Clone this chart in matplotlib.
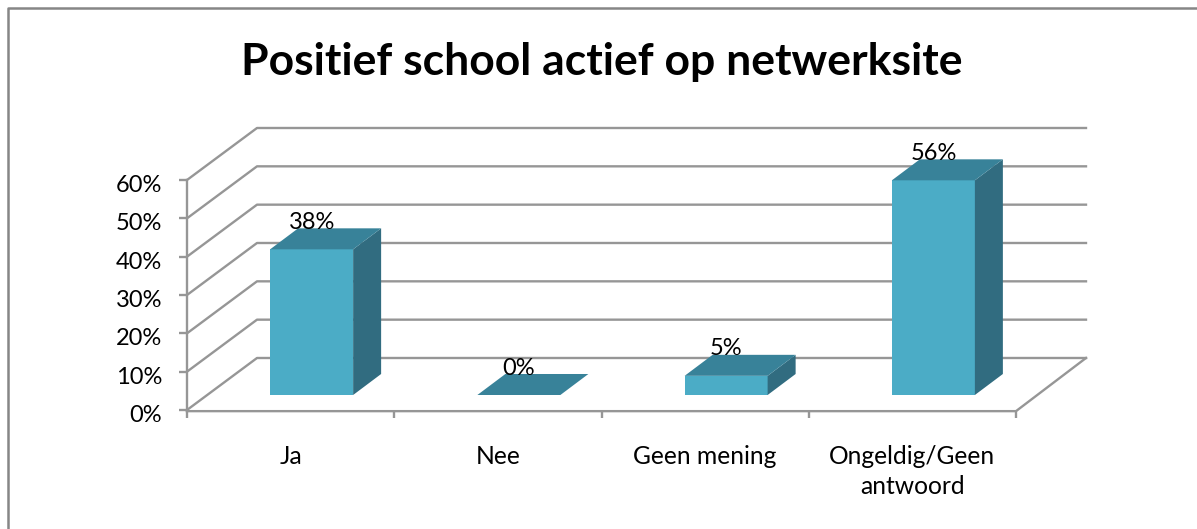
import matplotlib
matplotlib.use("Agg")
import matplotlib.pyplot as plt
from matplotlib.patches import Polygon
from matplotlib.transforms import ScaledTranslation

plt.rcParams['font.family'] = ['Lato', 'DejaVu Sans']

categories = ["Ja", "Nee", "Geen mening", "Ongeldig/Geen\nantwoord"]
values = [38, 0, 5, 56]
y_ticks = [0, 10, 20, 30, 40, 50, 60]

GRID = "#969696"
FRAME = "#868686"
FRONT = "#4bacc6"
TOP = "#388299"
SIDE = "#316c80"

fig = plt.figure(figsize=(11.97, 5.29), dpi=100)
ax = fig.add_axes([187/1197, 1 - 410/529, (1016-187)/1197, 230/529])
ax.set_xlim(0, 4)
ax.set_ylim(0, 60)

# depth of the fake 3d box, in data units
dx = 70 / 207.25
dy = 52 / 3.833
# bars sit a bit inside the floor
bar_w = 83 / 207.25
bar_dx = 28 / 207.25
bar_dy = 21 / 3.833
off_x = 0.3 * dx
off_y = 15 / 3.833

for t in y_ticks:
    ax.plot([0, dx, 4 + dx], [t, t + dy, t + dy], color=GRID, lw=1.7, clip_on=False, zorder=1)
ax.plot([0, 4, 4 + dx], [-0.3, -0.3, dy], color=GRID, lw=1.7, clip_on=False, zorder=1)
ax.plot([0, 0], [-0.3, 60], color=GRID, lw=1.7, clip_on=False, zorder=1)

for i, v in enumerate(values):
    x0 = i + 0.5 - bar_w / 2 + off_x
    x1 = x0 + bar_w
    y0 = off_y
    y1 = v + off_y
    if v > 0:
        ax.add_patch(Polygon([(x0, y0), (x1, y0), (x1, y1), (x0, y1)], color=FRONT, lw=0, clip_on=False, zorder=3))
        ax.add_patch(Polygon([(x1, y0), (x1 + bar_dx, y0 + bar_dy), (x1 + bar_dx, y1 + bar_dy), (x1, y1)],
                             color=SIDE, lw=0, clip_on=False, zorder=3))
    ax.add_patch(Polygon([(x0, y1), (x1, y1), (x1 + bar_dx, y1 + bar_dy), (x0 + bar_dx, y1 + bar_dy)],
                         color=TOP, lw=0, clip_on=False, zorder=3))
    ax.text((x0 + x1) / 2, y1 + 7.0, "%d%%" % v, ha="center", va="center", fontsize=17, color="black", zorder=4)

for s in ax.spines.values():
    s.set_visible(False)
ax.patch.set_visible(False)

ax.set_yticks(y_ticks)
ax.set_yticklabels(["%d%%" % t for t in y_ticks], fontsize=17)
ax.set_xticks([0, 1, 2, 3, 4])
ax.set_xticklabels([])
ax.tick_params(axis="both", color=GRID, width=1.7, length=6, pad=12)
ax.tick_params(axis="x", direction="out")

# nudge y labels down a little
shift = ScaledTranslation(0, -2.5 / 72, fig.dpi_scale_trans)
for lab in ax.get_yticklabels():
    lab.set_transform(lab.get_transform() + shift)

for i, c in enumerate(categories):
    ax.annotate(c, (i + 0.5, 0), xytext=(0, -25), textcoords="offset points", ha="center", va="top",
                fontsize=17.7, linespacing=1.4, annotation_clip=False)

fig.text(602 / 1197, 1 - 62 / 529, "Positief school actief op netwerksite", ha="center", va="center",
         fontsize=32, fontweight="bold")

# outer frame of the chart
fig.add_artist(plt.Line2D([8 / 1197, 8 / 1197, 1197 / 1197], [0, 1 - 8 / 529, 1 - 8 / 529], color=FRAME, lw=1.8))

fig.savefig("out.png", dpi=100)
